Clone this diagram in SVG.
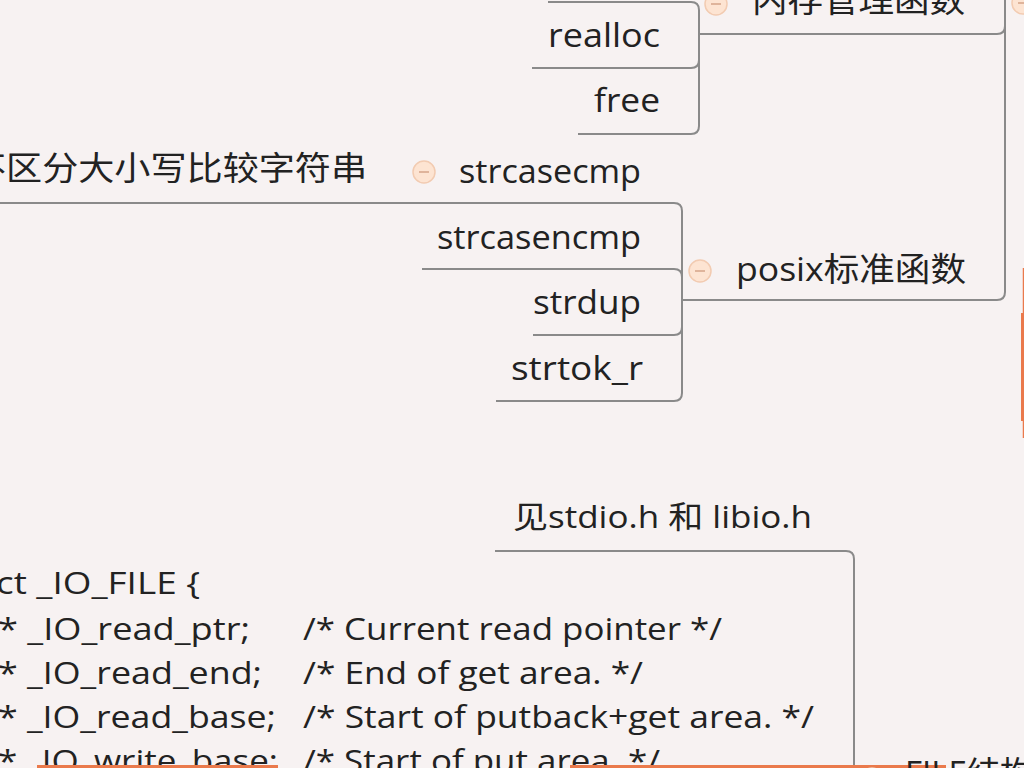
<svg xmlns="http://www.w3.org/2000/svg" width="1024" height="768" viewBox="0 0 1024 768">
<style>
.t{font-family:"Open Sans","Noto Sans","Noto Sans CJK SC",sans-serif;font-size:33px;fill:#222}
.c{font-family:"Open Sans","Noto Sans","Noto Sans CJK SC",sans-serif;font-size:31px;fill:#222}
.ln{fill:none;stroke:#8a8a8a;stroke-width:2}
.btn{fill:#fde4d2;stroke:#f2cbb1;stroke-width:1.5}
.mn{stroke:#d4a488;stroke-width:1.5}
.or{fill:#ea7a4c}
</style>
<defs>
<g id="collapse"><circle class="btn" r="11"/><line class="mn" x1="-5" y1="0" x2="5" y2="0"/></g>
</defs>
<rect width="1024" height="768" fill="#f7f2f2"/>
<g id="connectors">
<path class="ln" d="M1005,0 V292 Q1005,300 997,300 H683"/>
<path class="ln" d="M1005,26 Q1005,34 997,34 H699"/>
<path class="ln" d="M699,34 V10 Q699,2 691,2 H548"/>
<path class="ln" d="M699,34 V60 Q699,68 691,68 H532"/>
<path class="ln" d="M699,34 V126 Q699,134 691,134 H578"/>
<path class="ln" d="M682,300 V211 Q682,203 674,203 H0"/>
<path class="ln" d="M682,300 V277 Q682,269 674,269 H422"/>
<path class="ln" d="M682,300 V327 Q682,335 674,335 H533"/>
<path class="ln" d="M682,300 V393 Q682,401 674,401 H496"/>
<path class="ln" d="M495,551 H846 Q854,551 854,559 V768"/>
</g>
<g id="node-mem">
<use href="#collapse" x="716" y="4"/>
<text class="t" x="752" y="12" textLength="213" lengthAdjust="spacingAndGlyphs">内存管理函数</text>
</g>
<g id="node-parent-btn"><use href="#collapse" x="1023" y="3"/></g>
<g id="node-realloc"><text class="t" x="548" y="47" textLength="112" lengthAdjust="spacingAndGlyphs">realloc</text></g>
<g id="node-free"><text class="t" x="594" y="112" textLength="66" lengthAdjust="spacingAndGlyphs">free</text></g>
<g id="node-strcasecmp">
<use href="#collapse" x="424" y="172"/>
<text class="t" x="459" y="183" textLength="182" lengthAdjust="spacingAndGlyphs">strcasecmp</text>
</g>
<g id="node-nocase"><text class="t" x="-30" y="180" textLength="397" lengthAdjust="spacingAndGlyphs">不区分大小写比较字符串</text></g>
<g id="node-strcasencmp"><text class="t" x="437" y="249" textLength="204" lengthAdjust="spacingAndGlyphs">strcasencmp</text></g>
<g id="node-strdup"><text class="t" x="533" y="314" textLength="108" lengthAdjust="spacingAndGlyphs">strdup</text></g>
<g id="node-strtok_r"><text class="t" x="511" y="380" textLength="132" lengthAdjust="spacingAndGlyphs">strtok_r</text></g>
<g id="node-posix">
<use href="#collapse" x="700" y="271"/>
<text class="t" x="736" y="281" textLength="230" lengthAdjust="spacingAndGlyphs">posix标准函数</text>
</g>
<g id="node-right">
<rect class="or" x="1021" y="313" width="4" height="108"/>
<line x1="1023.5" y1="268" x2="1023.5" y2="438" stroke="#ea7a4c" stroke-width="1.5"/>
</g>
<g id="node-see">
<text class="c" x="513" y="528" textLength="299" lengthAdjust="spacingAndGlyphs">见stdio.h 和 libio.h</text>
</g>
<g id="node-code">
<text class="c" x="-4" y="594" textLength="204" lengthAdjust="spacingAndGlyphs">ct _IO_FILE {</text>
<text class="c" x="-2" y="640" textLength="252" lengthAdjust="spacingAndGlyphs">* _IO_read_ptr;</text>
<text class="c" x="303" y="640" textLength="419" lengthAdjust="spacingAndGlyphs">/* Current read pointer */</text>
<text class="c" x="-2" y="684" textLength="264" lengthAdjust="spacingAndGlyphs">* _IO_read_end;</text>
<text class="c" x="303" y="684" textLength="340" lengthAdjust="spacingAndGlyphs">/* End of get area. */</text>
<text class="c" x="-2" y="728" textLength="278" lengthAdjust="spacingAndGlyphs">* _IO_read_base;</text>
<text class="c" x="303" y="728" textLength="511" lengthAdjust="spacingAndGlyphs">/* Start of putback+get area. */</text>
<text class="c" x="-2" y="772" textLength="280" lengthAdjust="spacingAndGlyphs">* _IO_write_base;</text>
<text class="c" x="303" y="772" textLength="357" lengthAdjust="spacingAndGlyphs">/* Start of put area. */</text>
</g>
<g id="node-bottom-left"><rect class="or" x="37" y="765" width="241" height="3"/></g>
<g id="node-bottom-mid"><rect class="or" x="570" y="765" width="376" height="3"/></g>
<g id="node-file">
<use href="#collapse" x="872" y="779"/>
<text class="t" x="905" y="785">FILE结构</text>
</g>
</svg>
